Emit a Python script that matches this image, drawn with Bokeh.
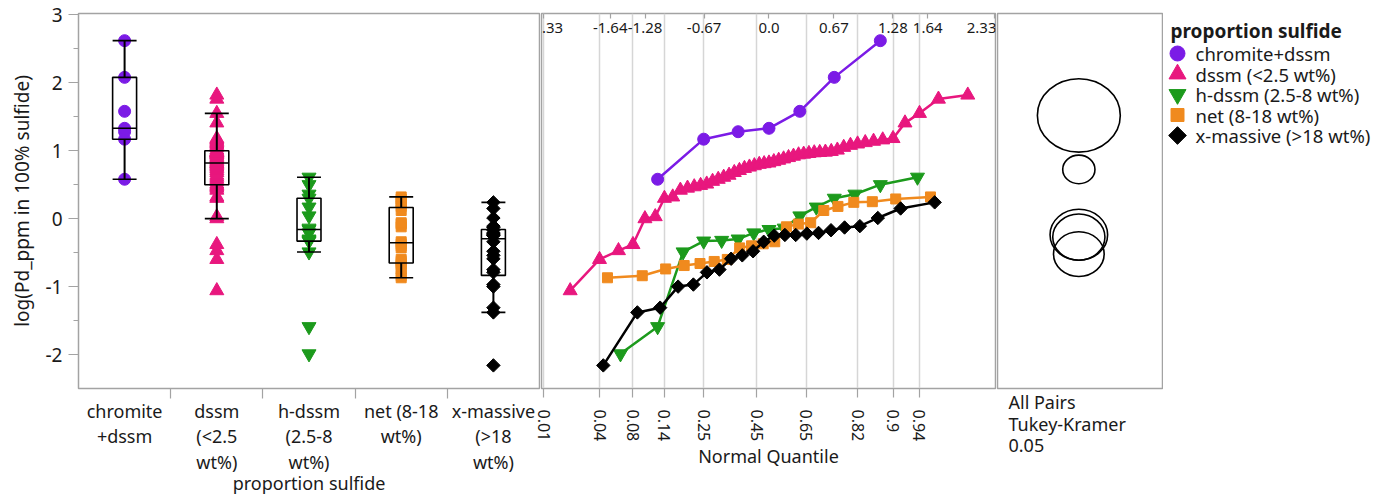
from math import pi
import numpy as np
from statistics import NormalDist
from bokeh.plotting import figure
from bokeh.layouts import row
from bokeh.models import Range1d, FixedTicker, LinearAxis, Title
from bokeh.core.properties import value
from bokeh.embed import file_html
from bokeh.resources import INLINE

FONT = "Noto Sans"
TXT = "#1a1a1a"
GRAY = "#a3a3a3"

# ---------------- data ----------------
groups = ["chromite+dssm", "dssm (<2.5 wt%)", "h-dssm (2.5-8 wt%)", "net (8-18 wt%)", "x-massive (>18 wt%)"]
axis_labels = ["chromite\n+dssm", "dssm\n(<2.5\nwt%)", "h-dssm\n(2.5-8\nwt%)", "net (8-18\nwt%)", "x-massive\n(>18\nwt%)"]
colors = ["#7b1be6", "#e8177e", "#1c9a1c", "#f08a1e", "#000000"]

chromite = [0.58, 1.17, 1.28, 1.33, 1.58, 2.08, 2.62]
dssm = [-1.06, -0.60, -0.47, -0.38, 0.00, 0.03, 0.30, 0.32, 0.42, 0.45,
        0.47, 0.49, 0.51, 0.55, 0.58, 0.61, 0.64, 0.68, 0.71, 0.74,
        0.76, 0.78, 0.80, 0.81, 0.82, 0.84, 0.86, 0.88, 0.90, 0.92,
        0.94, 0.95, 0.96, 0.97, 0.975, 0.98, 0.99, 1.01, 1.05, 1.08,
        1.10, 1.12, 1.14, 1.16, 1.18, 1.41, 1.55, 1.76, 1.82]
h_dssm = [-1.99, -1.59, -0.49, -0.33, -0.32, -0.30, -0.21, -0.16, -0.14, 0.04,
          0.17, 0.30, 0.36, 0.50, 0.61]
net = [-0.87, -0.84, -0.74, -0.69, -0.66, -0.63, -0.60, -0.43, -0.40, -0.37,
       -0.34, -0.12, -0.08, -0.06, 0.12, 0.18, 0.24, 0.25, 0.29, 0.32]
x_massive = [-2.16, -1.38, -1.31, -1.00, -0.97, -0.79, -0.75, -0.59, -0.54, -0.48,
             -0.34, -0.25, -0.24, -0.24, -0.22, -0.21, -0.17, -0.13, -0.11, 0.01,
             0.15, 0.24]
series = [chromite, dssm, h_dssm, net, x_massive]

# comparison circle radii (log units), Tukey-Kramer 0.05
circle_radius = [0.54, 0.21, 0.375, 0.34, 0.33]

y_ticks = [-2, -1, 0, 1, 2, 3]
y_tick_labels = ["-2", "-1", "0", "1", "2", "3"]
top_probs = [0.01, 0.05, 0.10, 0.25, 0.50, 0.75, 0.90, 0.95, 0.99]
top_labels = ["-2.33", "-1.64", "-1.28", "-0.67", "0.0", "0.67", "1.28", "1.64", "2.33"]
bottom_probs = [0.01, 0.04, 0.08, 0.14, 0.25, 0.45, 0.65, 0.82, 0.90, 0.94]
bottom_labels = ["0.01", "0.04", "0.08", "0.14", "0.25", "0.45", "0.65", "0.82", "0.9", "0.94"]
test_label = "All Pairs\nTukey-Kramer\n 0.05"

# ---------------- styles ----------------
markers = ["circle", "triangle", "inverted_triangle", "square", "square"]
angles = [0, 0, 0, 0, pi / 4]
sizes = [12, 14, 14, 10, 9.5]
legend_sizes = [15, 17, 17, 13, 12.5]

Y_LO, Y_HI = -2.5, 3.02
FRAME_H = 375
TOP = 13
BOTTOM = 104
nd = NormalDist()


def base_fig(fw, left, right, **kw):
    p = figure(frame_width=fw, frame_height=FRAME_H, min_border_left=left,
               min_border_right=right, min_border_top=TOP, min_border_bottom=BOTTOM,
               y_range=Range1d(Y_LO, Y_HI), output_backend="svg",
               toolbar_location=None, tools="", **kw)
    p.outline_line_color = GRAY
    p.outline_line_width = 1.5
    p.background_fill_color = "white"
    p.border_fill_color = "white"
    p.xgrid.visible = False
    p.ygrid.visible = False
    return p


def style_axis(ax, size):
    ax.axis_line_color = GRAY
    ax.major_tick_line_color = GRAY
    ax.minor_tick_line_color = GRAY
    ax.major_tick_line_width = 1.2
    ax.minor_tick_line_width = 1.2
    ax.major_label_text_font = FONT
    ax.major_label_text_font_size = size
    ax.major_label_text_color = TXT
    ax.axis_label_text_font = FONT
    ax.axis_label_text_font_style = "normal"
    ax.axis_label_text_color = TXT


# ---------------- left: box plots ----------------
p1 = base_fig(461, 78, 1, x_range=Range1d(-0.5, len(groups) - 0.5))
xa = p1.xaxis[0]
style_axis(xa, "18px")
xa.ticker = FixedTicker(ticks=list(range(len(groups))),
                        minor_ticks=[i + 0.5 for i in range(len(groups) - 1)])
xa.major_label_overrides = {i: lab for i, lab in enumerate(axis_labels)}
xa.major_tick_out = 0
xa.major_tick_in = 0
xa.minor_tick_out = 10
xa.minor_tick_in = 0
xa.major_label_text_line_height = 1.08
xa.major_label_standoff = 0
xa.axis_label = "proportion sulfide"
xa.axis_label_text_font_size = "18px"
xa.axis_label_standoff = -6

ya = p1.yaxis[0]
style_axis(ya, "19px")
ya.ticker = FixedTicker(ticks=y_ticks, minor_ticks=[t + 0.5 for t in y_ticks[:-1]])
ya.major_label_overrides = dict(zip(y_ticks, y_tick_labels))
ya.major_tick_out = 10
ya.major_tick_in = 0
ya.minor_tick_out = 5
ya.minor_tick_in = 0
ya.major_label_standoff = 6
ya.axis_label = "log(Pd_ppm in 100% sulfide)"
ya.axis_label_text_font_size = "19px"
ya.axis_label_standoff = 8

BW = 0.13
for i, vals in enumerate(series):
    a = np.array(vals)
    p1.scatter(np.full(len(a), i), a, marker=markers[i], size=sizes[i],
               angle=angles[i], fill_color=colors[i], line_color=colors[i])
for i, vals in enumerate(series):
    a = np.array(vals)
    q1, med, q3 = np.quantile(a, [0.25, 0.5, 0.75], method="weibull")
    iqr = q3 - q1
    lo = a[a >= q1 - 1.5 * iqr].min()
    hi = a[a <= q3 + 1.5 * iqr].max()
    p1.quad(left=[i - BW], right=[i + BW], bottom=[q1], top=[q3],
            fill_color=None, line_color="black", line_width=1.6)
    p1.segment(x0=[i, i], y0=[q3, q1], x1=[i, i], y1=[hi, lo],
               line_color="black", line_width=2)
    p1.segment(x0=[i - BW, i - BW, i - BW], y0=[hi, lo, med],
               x1=[i + BW, i + BW, i + BW], y1=[hi, lo, med],
               line_color="black", line_width=1.6)

# ---------------- middle: normal quantile plot ----------------
OVERLAP = 12
p2 = base_fig(454, 1 + OVERLAP, 1, x_range=Range1d(-2.35, 2.34), y_axis_location=None)
p2.margin = (0, 0, 0, -OVERLAP)
p2.border_fill_alpha = 0
bz = [round(nd.inv_cdf(pp), 5) for pp in bottom_probs]
xa2 = p2.xaxis[0]
style_axis(xa2, "16px")
xa2.ticker = FixedTicker(ticks=bz)
xa2.major_label_overrides = dict(zip(bz, bottom_labels))
xa2.major_label_orientation = "vertical"
xa2.major_tick_out = 9
xa2.major_tick_in = 0
xa2.major_label_standoff = 12
xa2.axis_label = "Normal Quantile"
xa2.axis_label_text_font_size = "18px"
xa2.axis_label_standoff = 0
p2.xgrid.visible = True
p2.xgrid.grid_line_color = "#d6d6d6"
p2.xgrid.grid_line_width = 1.5

tz = [round(nd.inv_cdf(pp), 2) for pp in top_probs]
top_lab = LinearAxis(ticker=FixedTicker(ticks=tz), major_label_overrides=dict(zip(tz, top_labels)),
                     fixed_location=2.61, axis_line_color=None, major_tick_line_color=None,
                     minor_tick_line_color=None, major_label_standoff=2,
                     major_label_text_font=FONT, major_label_text_font_size="15px",
                     major_label_text_color=TXT)
p2.add_layout(top_lab, "above")
top_tick = LinearAxis(ticker=FixedTicker(ticks=tz), fixed_location=Y_HI,
                      axis_line_color=None, major_tick_in=5, major_tick_out=0,
                      major_tick_line_color=GRAY, major_tick_line_width=1.2,
                      minor_tick_line_color=None, major_label_text_alpha=0,
                      major_label_text_font_size="1px")
p2.add_layout(top_tick, "above")

for i, vals in enumerate(series):
    v = sorted(vals)
    n = len(v)
    z = [nd.inv_cdf(k / (n + 1)) for k in range(1, n + 1)]
    p2.line(z, v, line_color=colors[i], line_width=2.5)
    p2.scatter(z, v, marker=markers[i], size=sizes[i], angle=angles[i],
               fill_color=colors[i], line_color=colors[i])

# ---------------- right: comparison circles ----------------
p3 = base_fig(166, 1, 0, x_range=Range1d(0, 1), x_axis_location=None, y_axis_location=None)
PX_PER_Y = FRAME_H / (Y_HI - Y_LO)
ASPECT = 1.13
means = [float(np.mean(s)) for s in series]
p3.ellipse(x=[0.49] * len(series), y=means,
           width=[2 * r * PX_PER_Y * ASPECT / 166 for r in circle_radius],
           height=[2 * r for r in circle_radius],
           fill_color=None, line_color="black", line_width=1.6)
p3.add_layout(Title(text=test_label, align="left", offset=11, standoff=0,
                    text_font=FONT, text_font_size="18px", text_font_style="normal",
                    text_line_height=0.9, text_color=TXT), "below")

# ---------------- legend ----------------
p4 = figure(frame_width=218, frame_height=FRAME_H, min_border_left=0, min_border_right=0,
            min_border_top=TOP, min_border_bottom=BOTTOM,
            x_range=Range1d(0, 218), y_range=Range1d(FRAME_H, 0),
            x_axis_location=None, y_axis_location=None,
            output_backend="svg", toolbar_location=None, tools="")
p4.outline_line_color = None
p4.xgrid.visible = False
p4.ygrid.visible = False
p4.text(x=[7], y=[17], text=["proportion sulfide"], text_font=value(FONT),
        text_font_size="19px", text_font_style="bold", text_baseline="middle", text_color=TXT)
rows_y = [40 + 20.5 * i for i in range(len(groups))]
for i in range(len(groups)):
    p4.scatter([14], [rows_y[i]], marker=markers[i], size=legend_sizes[i], angle=angles[i],
               fill_color=colors[i], line_color=colors[i])
p4.text(x=[32] * len(groups), y=rows_y, text=groups, text_font=value(FONT),
        text_font_size="18.5px", text_baseline="middle", text_color=TXT)

layout = row(p1, p2, p3, p4)
open("out.html", "w").write(file_html(layout, INLINE))
